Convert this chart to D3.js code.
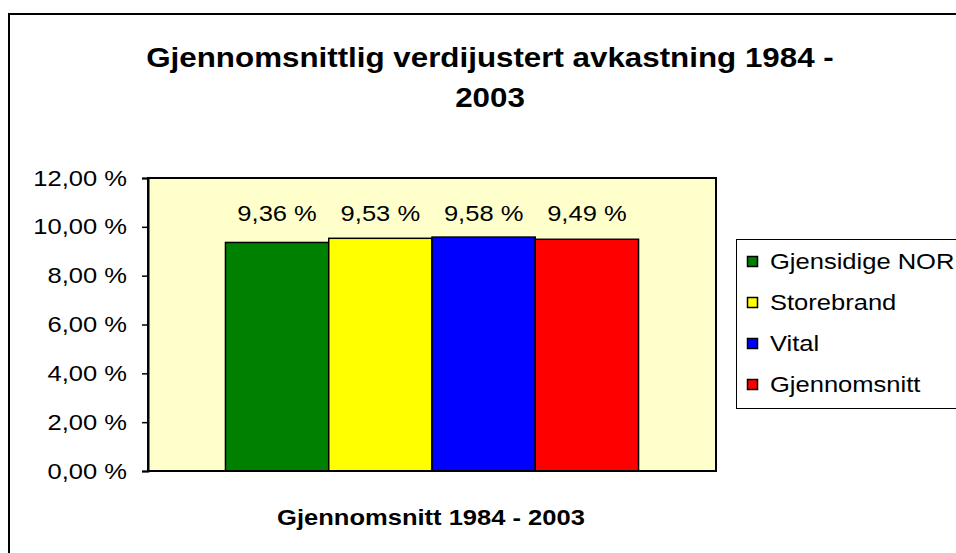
<!DOCTYPE html>
<html lang="no">
<head>
<meta charset="UTF-8">
<title>Gjennomsnittlig verdijustert avkastning</title>
<script src="https://d3js.org/d3.v7.min.js"></script>
<style>
    body { margin: 0; background: #fff; }
    svg { display: block; font-family: "Liberation Sans", Arial, sans-serif; }
</style>
</head>
<body>
<svg width="956" height="553"></svg>
<script>
    // data
    var category = "Gjennomsnitt 1984 - 2003";
    var seriesNames = ["Gjensidige NOR", "Storebrand", "Vital", "Gjennomsnitt"];
    var seriesValues = [9.36, 9.53, 9.58, 9.49];
    var seriesColors = ["#008000", "#ffff00", "#0000ff", "#ff0000"];
    var yTicks = [0, 2, 4, 6, 8, 10, 12];

    var svg = d3.select("svg");

    // plot area (don't call it "top", that's window.top)
    var plotL = 148, plotR = 716, plotT = 178, plotB = 471;
    // the original text looks stretched sideways a bit
    var stretch = 1.16;

    var fmt = function(v) { return v.toFixed(2).replace(".", ",") + " %"; };

    // outer chart border (right/bottom fall outside the window)
    svg.append("rect")
        .attr("x", 9).attr("y", 14)
        .attr("width", 1000).attr("height", 600)
        .attr("fill", "#fff").attr("stroke", "#000").attr("stroke-width", 2);

    // title
    svg.append("text")
        .attr("x", 490).attr("y", 67)
        .attr("text-anchor", "middle")
        .attr("font-size", 27).attr("font-weight", "bold")
        .text("Gjennomsnittlig verdijustert avkastning 1984 -");
    svg.append("text")
        .attr("x", 490).attr("y", 107)
        .attr("text-anchor", "middle")
        .attr("font-size", 27).attr("font-weight", "bold")
        .text("2003");

    var y = d3.scaleLinear().domain([0, 12]).range([plotB, plotT]);

    var x0 = d3.scaleBand().domain([category]).range([plotL, plotR]);
    // Excel gap width 150% -> bars take 4/(4+1.5) of the band
    var groupW = x0.bandwidth() * 4 / 5.5;
    var gx = x0(category) + (x0.bandwidth() - groupW) / 2;
    var x1 = d3.scaleBand().domain(seriesNames).range([gx, gx + groupW]);

    svg.append("rect")
        .attr("x", plotL).attr("y", plotT)
        .attr("width", plotR - plotL).attr("height", plotB - plotT)
        .attr("fill", "#ffffcc").attr("stroke", "#000").attr("stroke-width", 2);

    svg.selectAll("rect.bar")
        .data(seriesValues)
        .enter().append("rect")
        .attr("class", "bar")
        .attr("x", function(d, i) { return x1(seriesNames[i]); })
        .attr("y", function(d) { return y(d); })
        .attr("width", x1.bandwidth())
        .attr("height", function(d) { return plotB - y(d); })
        .attr("fill", function(d, i) { return seriesColors[i]; })
        .attr("stroke", "#000").attr("stroke-width", 1.5);

    svg.selectAll("text.val")
        .data(seriesValues)
        .enter().append("text")
        .attr("class", "val")
        .attr("x", function(d, i) { return x1(seriesNames[i]) + x1.bandwidth() / 2; })
        .attr("y", 221)
        .attr("text-anchor", "middle")
        .attr("font-size", 22)
        .text(fmt);

    var yAxis = svg.append("g")
        .attr("transform", "translate(" + plotL + ",0)")
        .call(d3.axisLeft(y).tickValues(yTicks).tickSize(6).tickPadding(15).tickFormat(fmt));
    yAxis.select(".domain").attr("stroke-width", 2);
    yAxis.selectAll("text").attr("font-size", 22).attr("fill", "#000")
        .attr("font-family", "'Liberation Sans', Arial, sans-serif");
    yAxis.selectAll("line").attr("stroke", "#000").attr("stroke-width", 1.5);

    svg.append("line")
        .attr("x1", plotL).attr("x2", plotR)
        .attr("y1", plotB).attr("y2", plotB)
        .attr("stroke", "#000").attr("stroke-width", 2);

    svg.append("text")
        .attr("x", 431).attr("y", 525)
        .attr("text-anchor", "middle")
        .attr("font-size", 22).attr("font-weight", "bold")
        .text(category);

    // legend
    var legend = svg.append("g");
    legend.append("rect")
        .attr("x", 736.5).attr("y", 239.5)
        .attr("width", 300).attr("height", 169)
        .attr("fill", "#fff").attr("stroke", "#000").attr("stroke-width", 1);

    var items = legend.selectAll("g.item")
        .data(seriesNames)
        .enter().append("g")
        .attr("class", "item")
        .attr("transform", function(d, i) { return "translate(747," + (261 + i * 41) + ")"; });
    items.append("rect")
        .attr("x", 0.5).attr("y", -4.5)
        .attr("width", 10).attr("height", 10)
        .attr("fill", function(d, i) { return seriesColors[i]; })
        .attr("stroke", "#000").attr("stroke-width", 1.5);
    items.append("text")
        .attr("x", 23).attr("y", 8)
        .attr("font-size", 22)
        .text(function(d) { return d; });

    // widen every text to match the sideways stretch
    svg.selectAll("text").each(function() {
        var w = this.getComputedTextLength();
        d3.select(this)
            .attr("textLength", w * stretch)
            .attr("lengthAdjust", "spacingAndGlyphs");
    });
</script>
</body>
</html>
